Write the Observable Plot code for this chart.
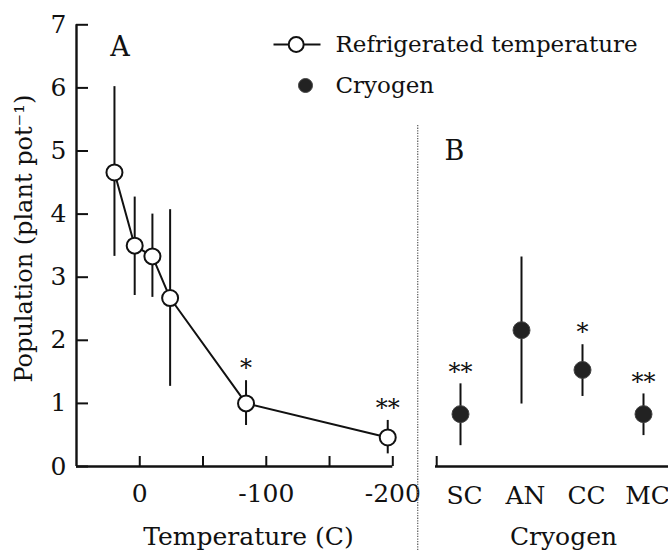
<!DOCTYPE html>
<html><head><meta charset="utf-8">
<script src="https://cdn.jsdelivr.net/npm/d3@7"></script>
<script src="https://cdn.jsdelivr.net/npm/@observablehq/plot@0.6"></script>
<style>
body{margin:0;background:#fff}
#chart{position:relative;width:668px;height:550px}
#chart svg{position:absolute;left:0;top:0}
</style>
</head><body><div id="chart"></div>
<script>
// ---- data ----
const temperatures = [20, 4, -10, -24, -84, -196];
const refMean = [4.66, 3.50, 3.33, 2.67, 1.00, 0.46];
const refLow  = [3.33, 2.71, 2.68, 1.27, 0.65, 0.20];
const refHigh = [6.02, 4.27, 4.00, 4.07, 1.36, 0.73];
const refSig  = ["", "", "", "", "*", "**"];

const cryogens = ["SC", "AN", "CC", "MC"];
const cryMean = [0.83, 2.16, 1.53, 0.83];
const cryLow  = [0.33, 0.99, 1.11, 0.49];
const cryHigh = [1.31, 3.32, 1.93, 1.15];
const crySig  = ["**", "", "*", "**"];

const yTicks = [0, 1, 2, 3, 4, 5, 6, 7];
const xTicks = [0, -50, -100, -150, -200];
const xTickLabels = ["0", "", "-100", "", "-200"];
const seriesNames = ["Refrigerated temperature", "Cryogen"];
const panelNames = ["A", "B"];
const yTitle = "Population (plant pot\u207B\u00B9)";
const xTitleA = "Temperature (C)";
const xTitleB = "Cryogen";

// ---- layout / style ----
const W = 668, H = 550;
const mTop = 24.3, mBottom = 84;
const leftA = 76, rightA = 392.3, leftB = 435;
const pad = 0.385;
const ink = "#111";
const font = "DejaVu Serif";
const fs = 25;      // axis text
const fsLeg = 23;   // legend text
const baseStyle = {fontFamily: font, fontSize: fs + "px", color: ink, background: "transparent", overflow: "visible"};

const ref = temperatures.map((t, i) => ({t, m: refMean[i], lo: refLow[i], hi: refHigh[i], sig: refSig[i]}));
const cry = cryogens.map((c, i) => ({c, m: cryMean[i], lo: cryLow[i], hi: cryHigh[i], sig: crySig[i]}));

const lineCircle = {
  draw(ctx, size) {
    const r = Math.sqrt(size / Math.PI);
    ctx.moveTo(-22.7, 0); ctx.lineTo(-r, 0);
    ctx.moveTo(r, 0); ctx.lineTo(24.3, 0);
    ctx.moveTo(r, 0); ctx.arc(0, 0, r, 0, 2 * Math.PI); ctx.closePath();
  }
};

const xDomainA = [50, -200];

const plotA = Plot.plot({
  width: W, height: H,
  marginLeft: leftA, marginRight: W - rightA, marginTop: mTop, marginBottom: mBottom,
  x: {domain: xDomainA},
  y: {domain: [0, 7]},
  style: baseStyle,
  marks: [
    Plot.axisY({ticks: yTicks, tickSize: -12, tickPadding: 22, tickFormat: d => String(d), label: null, strokeWidth: 2, fontSize: fs, stroke: ink}),
    Plot.axisX({ticks: xTicks, tickSize: -10, tickPadding: 28, tickFormat: d => xTickLabels[xTicks.indexOf(d)], label: null, strokeWidth: 2, fontSize: fs, stroke: ink}),
    Plot.ruleX([xDomainA[0]], {strokeWidth: 2.4, stroke: ink}),
    Plot.ruleY([0], {strokeWidth: 2.4, stroke: ink}),
    Plot.ruleX(ref, {x: "t", y1: "lo", y2: "hi", strokeWidth: 2, stroke: ink}),
    Plot.line(ref, {x: "t", y: "m", strokeWidth: 2, stroke: ink}),
    Plot.dot(ref, {x: "t", y: "m", r: 8, fill: "white", stroke: ink, strokeWidth: 2}),
    Plot.text(ref.filter(d => d.sig), {x: "t", y: "hi", text: "sig", dy: -12, lineAnchor: "middle", fontSize: 24, fill: ink}),
    Plot.text([panelNames[0]], {frameAnchor: "top-left", dx: 43.5, dy: 22.7, lineAnchor: "middle", textAnchor: "middle", fontSize: 27, fill: ink}),
    // legend
    Plot.dot([seriesNames[0]], {frameAnchor: "top-left", dx: 219.7, dy: 19.7, symbol: lineCircle, r: 7.5, fill: "white", stroke: ink, strokeWidth: 2}),
    Plot.text([seriesNames[0]], {frameAnchor: "top-left", dx: 259, dy: 19.7, textAnchor: "start", lineAnchor: "middle", fontSize: fsLeg, fill: ink}),
    Plot.dot([seriesNames[1]], {frameAnchor: "top-left", dx: 229, dy: 60.7, r: 7, fill: "#222", stroke: "#444", strokeWidth: 1}),
    Plot.text([seriesNames[1]], {frameAnchor: "top-left", dx: 259, dy: 60.7, textAnchor: "start", lineAnchor: "middle", fontSize: fsLeg, fill: ink}),
    // titles
    Plot.text([yTitle], {frameAnchor: "left", rotate: -90, dx: -52, dy: -7, textAnchor: "middle", lineAnchor: "middle", fontSize: 24, fill: ink}),
    Plot.text([xTitleA], {frameAnchor: "bottom", dx: 13.85, dy: 70, textAnchor: "middle", lineAnchor: "middle", fontSize: fs, fill: ink})
  ]
});

const stepB = (W - leftB) / (cryogens.length - 1 + 2 * pad);
const firstB = pad * stepB; // offset of the first category from the frame's left edge

const plotB = Plot.plot({
  width: W, height: H,
  marginLeft: leftB, marginRight: 0, marginTop: mTop, marginBottom: mBottom,
  x: {type: "point", domain: cryogens, padding: pad},
  y: {domain: [0, 7], axis: null},
  style: baseStyle,
  marks: [
    Plot.axisX({tickSize: 0, tickPadding: 20, dx: 4, label: null, fontSize: fs}),
    Plot.ruleY([0], {strokeWidth: 2.4, stroke: ink}),
    Plot.ruleX([cryogens[0]], {dx: -firstB, insetTop: (H - mBottom - mTop) - 10, strokeWidth: 2, stroke: ink}),
    Plot.ruleX([cryogens[0]], {dx: -firstB - 19, insetTop: 100.7, insetBottom: -mBottom, strokeWidth: 1.3, stroke: "#666", strokeDasharray: "1.3 1.3"}),
    Plot.ruleX(cry, {x: "c", y1: "lo", y2: "hi", strokeWidth: 2, stroke: ink}),
    Plot.dot(cry, {x: "c", y: "m", r: 8.5, fill: "#222", stroke: "#444", strokeWidth: 1}),
    Plot.text(cry.filter(d => d.sig), {x: "c", y: "hi", text: "sig", dy: -12, lineAnchor: "middle", fontSize: 24, fill: ink}),
    Plot.text([panelNames[1]], {frameAnchor: "top-left", dx: 19, dy: 126.7, lineAnchor: "middle", textAnchor: "middle", fontSize: 27, fill: ink}),
    Plot.text([xTitleB], {frameAnchor: "bottom", dx: 11.5, dy: 70, textAnchor: "middle", lineAnchor: "middle", fontSize: fs, fill: ink})
  ]
});

const chart = document.getElementById("chart");
chart.appendChild(plotA);
chart.appendChild(plotB);
</script>
</body></html>
